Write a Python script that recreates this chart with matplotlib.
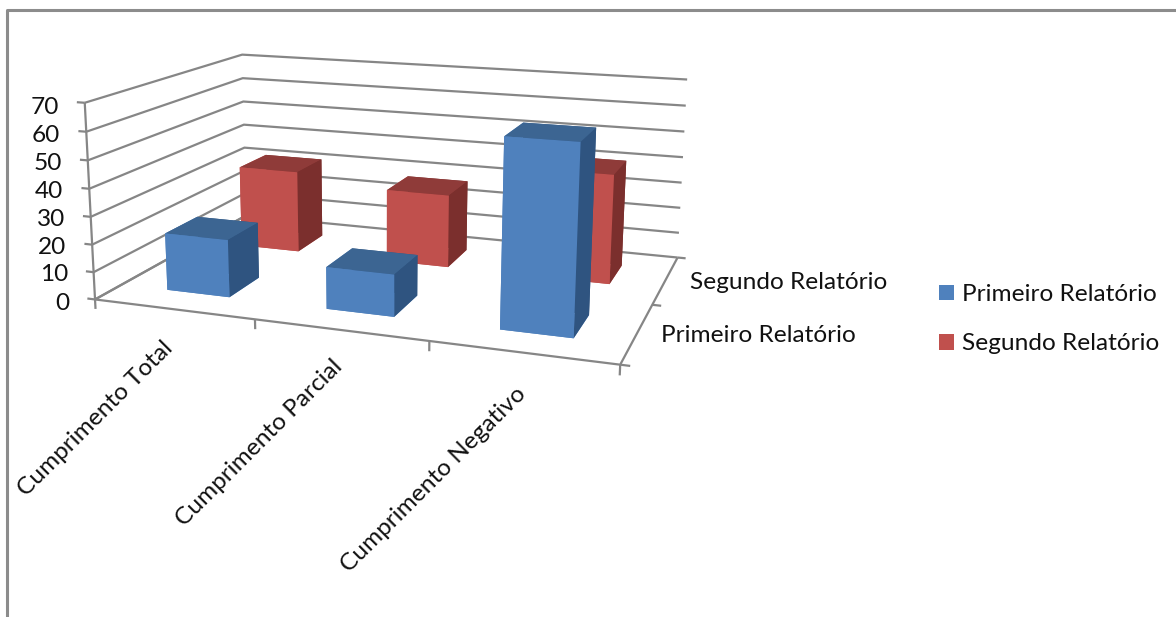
import numpy as np
import matplotlib
matplotlib.use("Agg")
import matplotlib.pyplot as plt
from matplotlib.lines import Line2D
from matplotlib.patches import Patch

categories = ["Cumprimento Total", "Cumprimento Parcial", "Cumprimento Negativo"]
series_names = ["Primeiro Relatório", "Segundo Relatório"]
primeiro = [21, 15, 65]
segundo = [32, 28, 41]
z_ticks = [0, 10, 20, 30, 40, 50, 60, 70]

W, H = 1176, 617
GRID = "#868686"
BAR_WIDTH = 0.4
FS = 17.6

# face colours: front, top, side
BLUE = ("#4F81BD", "#3C6592", "#2F5480")
RED = ("#C0504D", "#8F3B39", "#7B2F2D")

plt.rcParams["font.family"] = ["Lato", "DejaVu Sans"]
plt.rcParams["text.color"] = "#111111"


def px(x, y):
    return x / W, 1 - y / H


def draw_bars(ax, values, row, faces, zorder):
    front, top, side = faces
    # bar3d face order: bottom, top, front, back, left, right
    colors = [front, top, front, side, front, side]
    for i, v in enumerate(values):
        ax.bar3d(i + 0.5 - BAR_WIDTH / 2, row + 0.5 - BAR_WIDTH / 2, 0,
                 BAR_WIDTH, BAR_WIDTH, v,
                 color=colors, shade=False, linewidth=0, zorder=zorder)


def grid_line(ax, xs, ys, zs):
    ax.plot(xs, ys, zs, color=GRID, lw=1.6, zorder=1, clip_on=False,
            solid_capstyle="butt")


fig = plt.figure(figsize=(W / 100, H / 100), dpi=100)

# camera and box chosen so the floor runs down to the right
S = 1176.0
cx, cy = 385.8612, 201.4103
box = np.array([0.8003, 0.5260, 0.3025])
ax = fig.add_axes([(cx - S / 2) / W, 1 - (cy + S / 2) / H, S / W, S / H], projection="3d")
ax.set_xlim(0, 3)
ax.set_ylim(0, 2)
ax.set_zlim(0, 70)
ax.view_init(elev=13.6816, azim=-70.7384, roll=-0.2075)
ax.set_proj_type("persp", focal_length=0.2143)
ax.set_box_aspect(box, zoom=np.linalg.norm(box) / (1.8294640721620434 * 25 / 24))
ax.set_axis_off()
ax.computed_zorder = False

# walls
for z in z_ticks:
    grid_line(ax, [0, 0, 3], [0, 2, 2], [z, z, z])
    grid_line(ax, [-0.05, 0], [0, 0], [z, z])

# value labels follow the slanted axis
label_right = [69, 68, 66, 65, 63, 62, 60, 59]
label_y = [303, 275, 248, 220, 192, 164, 135, 107]
for z, x, y in zip(z_ticks, label_right, label_y):
    fig.text(*px(x, y), str(z), ha="right", va="center", fontsize=FS)

# floor edges and ticks
grid_line(ax, [0, 3, 3], [0, 0, 2], [0, 0, 0])
grid_line(ax, [0, 0], [0, 2], [0, 0])
grid_line(ax, [0, 0], [0, 0], [0, 70])
for i in range(4):
    grid_line(ax, [i, i], [0, 0], [0, -3.5])
for j in range(3):
    grid_line(ax, [3, 3.05], [j, j], [0, 0])

draw_bars(ax, segundo, 1, RED, 2)
draw_bars(ax, primeiro, 0, BLUE, 3)

# category labels
for name, pos in zip(categories, [(95, 419), (259, 443), (434, 480)]):
    fig.text(*px(*pos), name, rotation=45, ha="center", va="center", fontsize=FS)

# series labels along the depth axis
fig.text(*px(661, 336), series_names[0], ha="left", va="center", fontsize=FS)
fig.text(*px(690, 282), series_names[1], ha="left", va="center", fontsize=FS)

handles = [Patch(facecolor=BLUE[0], label=series_names[0]),
           Patch(facecolor=RED[0], label=series_names[1])]
fig.legend(handles=handles, loc="upper left", bbox_to_anchor=px(939, 284),
           frameon=False, fontsize=FS, handlelength=0.61, handleheight=0.61,
           handletextpad=0.33, labelspacing=1.16, borderpad=0, borderaxespad=0)

# chart frame, only top and left are in view
fig.add_artist(Line2D([7 / W, 7 / W, 1], [0, 1 - 10 / H, 1 - 10 / H], color="#8C8C8C", lw=2.2))

fig.savefig("out.png", dpi=100)
